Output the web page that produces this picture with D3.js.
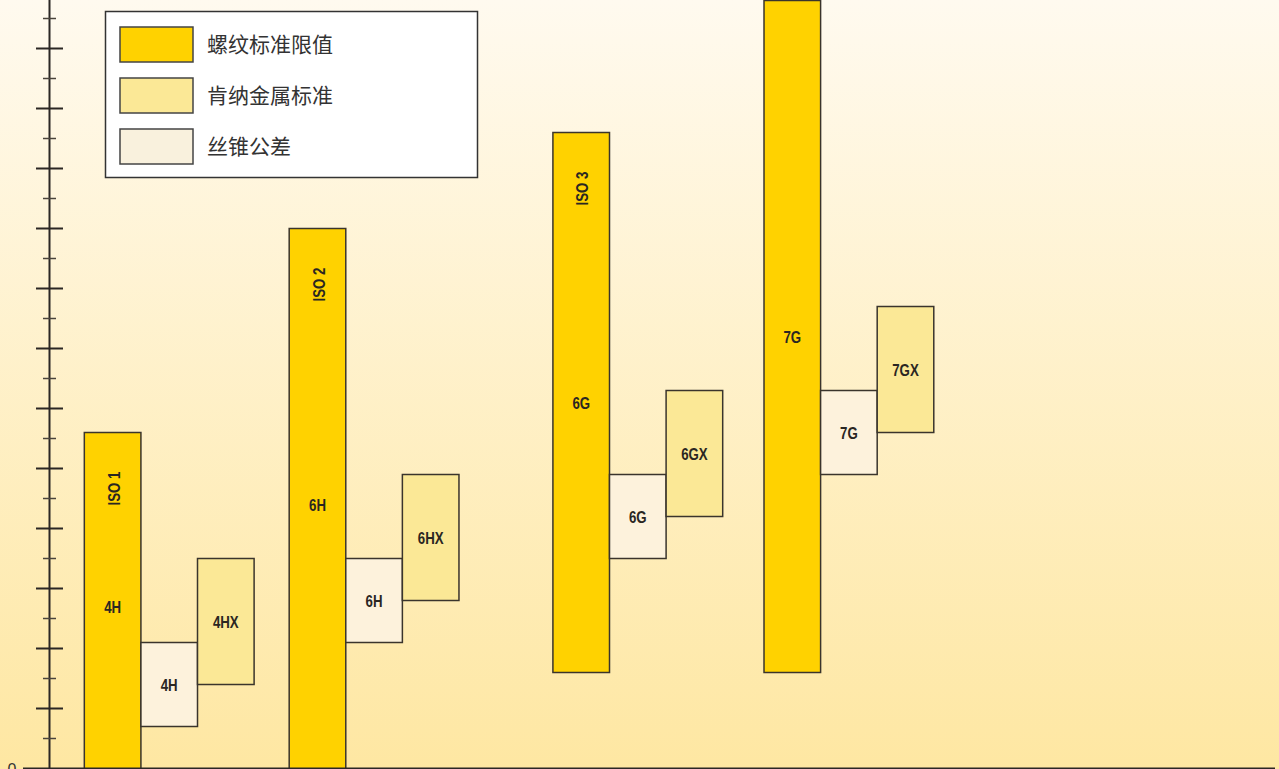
<!DOCTYPE html>
<html>
<head>
<meta charset="utf-8">
<script src="https://cdn.jsdelivr.net/npm/d3@7"></script>
<style>
  html, body { margin: 0; padding: 0; overflow: hidden; }
  svg { display: block; }
  .lbl { font-family: "Liberation Sans", Arial, sans-serif; font-weight: bold; fill: #2a2622; }
  .leg { font-family: "Noto Sans CJK SC", "Noto Sans", sans-serif; fill: #333; }
</style>
</head>
<body>
<script>
// ---- data ----
const groups      = ["ISO 1", "ISO 2", "ISO 3", "ISO 4"];
const isoLabels   = ["ISO 1", "ISO 2", "ISO 3", ""];
const groupStart  = [1.49, 5.11, 9.77, 13.5];
const limitLow    = [-0.45, -0.45, 3.2, 3.2];
const limitHigh   = [11.2, 18.0, 21.2, 25.6];
const limitClass  = ["4H", "6H", "6G", "7G"];
const tolLow      = [1.4, 4.2, 7.0, 9.8];
const tolHigh     = [4.2, 7.0, 9.8, 12.6];
const tolLabel    = ["4H", "6H", "6G", "7G"];
const xLow        = [2.8, 5.6, 8.4, 11.2];
const xHigh       = [7.0, 9.8, 12.6, 15.4];
const xLabel      = ["4HX", "6HX", "6GX", "7GX"];
const legendNames = ["螺纹标准限值", "肯纳金属标准", "丝锥公差"];
const yTicks      = d3.range(1, 26);
const yTickLabels = ["0"];

// ---- styles ----
const W = 1279, H = 769;
const C_LIMIT = "#ffd200", C_X = "#fbe896", C_TOL = "#fdf2dc", C_TOL_LEG = "#f9f1dd";
const STROKE = "#3a342c";
const SX = 0.78; // horizontal condensing of labels

const svg = d3.select("body").append("svg").attr("width", W).attr("height", H);
const defs = svg.append("defs");
const grad = defs.append("linearGradient").attr("id", "bg").attr("x1", 0).attr("y1", 0).attr("x2", 0).attr("y2", 1);
grad.append("stop").attr("offset", "0%").attr("stop-color", "#fffaef");
grad.append("stop").attr("offset", "100%").attr("stop-color", "#fee7a2");
svg.append("rect").attr("width", W).attr("height", H).attr("fill", "url(#bg)");

const x = d3.scaleLinear().domain([0, 22.6]).range([0, W]);
const y = d3.scaleLinear().domain([0, 25.6]).range([768.5, 0.5]);
const bw = x(1) - x(0);
const axisX = 49.5;

function label(parent, cx, cy, txt, rotate) {
  const t = `translate(${cx},${cy})` + (rotate ? " rotate(-90)" : "") + ` scale(${SX},1)`;
  parent.append("text").attr("class", "lbl").attr("transform", t)
    .attr("text-anchor", "middle").attr("dy", "0.36em").attr("font-size", 17).text(txt);
}

// bars
const g = svg.append("g");
groups.forEach((name, i) => {
  const x0 = x(groupStart[i]);
  g.append("rect").attr("x", x0).attr("y", y(limitHigh[i]))
    .attr("width", bw).attr("height", y(limitLow[i]) - y(limitHigh[i]))
    .attr("fill", C_LIMIT).attr("stroke", STROKE).attr("stroke-width", 1.5);
  g.append("rect").attr("x", x0 + bw).attr("y", y(tolHigh[i]))
    .attr("width", bw).attr("height", y(tolLow[i]) - y(tolHigh[i]))
    .attr("fill", C_TOL).attr("stroke", STROKE).attr("stroke-width", 1.5);
  g.append("rect").attr("x", x0 + 2 * bw).attr("y", y(xHigh[i]))
    .attr("width", bw).attr("height", y(xLow[i]) - y(xHigh[i]))
    .attr("fill", C_X).attr("stroke", STROKE).attr("stroke-width", 1.5);

  const cx = x0 + bw / 2;
  if (isoLabels[i]) label(g, cx + 1, y(limitHigh[i]) + 56, isoLabels[i], true);
  label(g, cx, (y(limitLow[i]) + y(limitHigh[i])) / 2, limitClass[i]);
  label(g, cx + bw, (y(tolLow[i]) + y(tolHigh[i])) / 2, tolLabel[i]);
  label(g, cx + 2 * bw, (y(xLow[i]) + y(xHigh[i])) / 2, xLabel[i]);
});

// axis
const ax = svg.append("g");
ax.append("line").attr("x1", axisX).attr("x2", axisX).attr("y1", 0).attr("y2", y(0))
  .attr("stroke", "#2b2724").attr("stroke-width", 2);
ax.selectAll("line.tick").data(yTicks).enter().append("line")
  .attr("class", "tick")
  .attr("x1", d => d % 2 === 0 ? axisX - 13.5 : axisX - 6.5)
  .attr("x2", d => d % 2 === 0 ? axisX + 13.5 : axisX + 6.5)
  .attr("y1", d => y(d)).attr("y2", d => y(d))
  .attr("stroke", d => d % 2 === 0 ? "#2b2724" : "#4a443c")
  .attr("stroke-width", d => d % 2 === 0 ? 2 : 1.5);
ax.append("line").attr("x1", 23).attr("x2", 1275).attr("y1", y(0)).attr("y2", y(0))
  .attr("stroke", "#2b2724").attr("stroke-width", 2);
ax.append("text").attr("x", 12).attr("y", y(0) + 6).attr("text-anchor", "middle")
  .attr("font-family", "Liberation Sans, Arial, sans-serif")
  .attr("font-size", 16).attr("fill", "#333").text(yTickLabels[0]);

// legend
const lg = svg.append("g");
lg.append("rect").attr("x", 105.5).attr("y", 11.5).attr("width", 372).attr("height", 166)
  .attr("fill", "#ffffff").attr("stroke", "#333").attr("stroke-width", 1.5);
const legColors = [C_LIMIT, C_X, C_TOL_LEG];
legendNames.forEach((n, i) => {
  const yy = 27 + i * 51;
  lg.append("rect").attr("x", 120).attr("y", yy).attr("width", 73).attr("height", 35)
    .attr("fill", legColors[i]).attr("stroke", "#444").attr("stroke-width", 1.5);
  lg.append("text").attr("class", "leg").attr("x", 207).attr("y", yy + 17.5).attr("dy", "0.36em")
    .attr("font-size", 21).text(n);
});
</script>
</body>
</html>
